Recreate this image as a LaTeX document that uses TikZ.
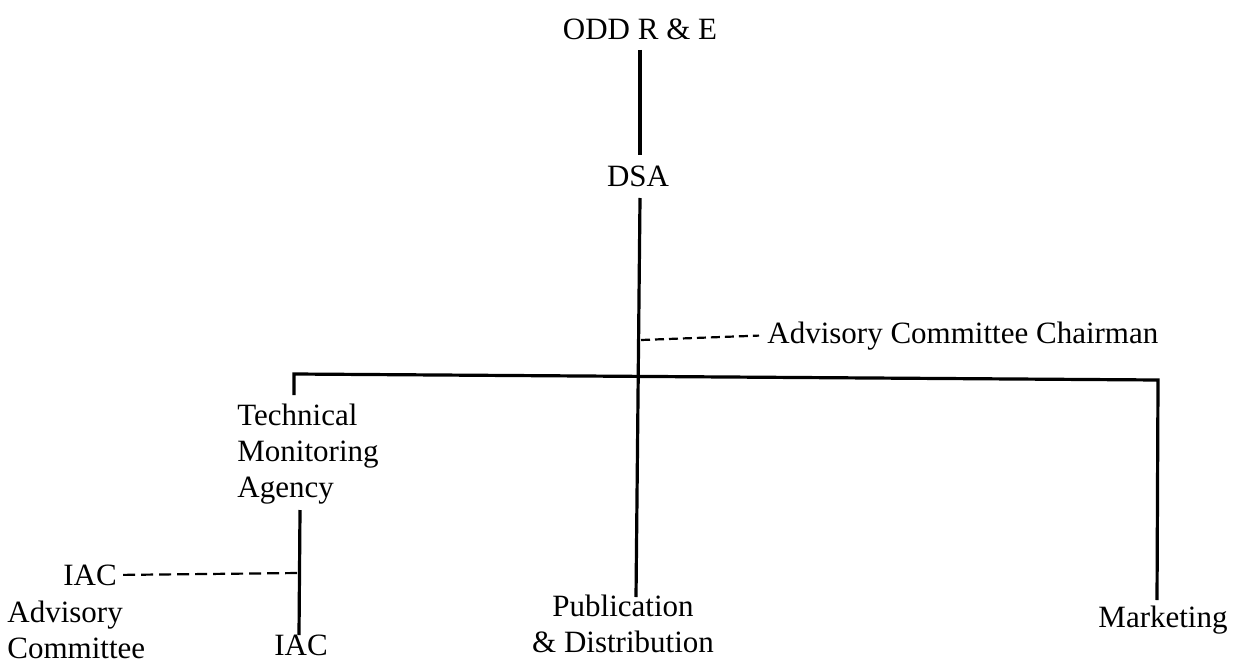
\documentclass[tikz,border=0pt]{standalone}
\usepackage{fontspec}
\setmainfont{Liberation Serif}
\begin{document}
\begin{tikzpicture}[x=0.5pt,y=-0.5pt,
  lbl/.style={inner sep=0pt, font=\fontsize{15.5}{18}\selectfont},
  solidline/.style={line width=1.6pt},
  dashline/.style={line width=1.1pt, dash pattern=on 6pt off 3pt}]
\useasboundingbox (0,0) rectangle (1235,663);
% nodes
\node[lbl, anchor=base] (odd) at (640,40) {ODD R \& E};
\node[lbl, anchor=base] (dsa) at (638,187) {DSA};
\node[lbl, anchor=base west] (acc) at (767,343) {Advisory Committee Chairman};
\node[lbl, anchor=north west, align=left] (tma) at (237,404) {Technical\\Monitoring\\Agency};
\node[lbl, anchor=north, align=center] (pub) at (623,595) {Publication\\\& Distribution};
\node[lbl, anchor=base] (mkt) at (1163,627) {Marketing};
\node[lbl, anchor=base west] (iacadv) at (63,585) {IAC};
\node[lbl, anchor=north west, align=left] (advc) at (7,601) {Advisory\\Committee};
\node[lbl, anchor=base] (iac) at (301,655) {IAC};
% coordinates
\coordinate (lcorner) at (294,374);
\coordinate (rcorner) at (1158,380);
\coordinate (tmatop) at (294,395);
\coordinate (tmabot) at (300,510);
\coordinate (iacjoin) at (299,573);
\coordinate (accjoin) at (641,340);
% connectors
\draw[solidline] (odd.south |- 0,50) -- (640,155);
\draw[solidline] (640,198) -- (636,597);
\draw[solidline] (tmatop) -- (lcorner) -- (rcorner) -- (1157,600);
\draw[solidline] (tmabot) -- (299,635);
\draw[dashline] ([xshift=3]iacadv.east) -- (iacjoin);
\draw[dashline, dash pattern=on 4.5pt off 2.5pt] (accjoin) -- ([xshift=-4]acc.west);
\end{tikzpicture}
\end{document}
